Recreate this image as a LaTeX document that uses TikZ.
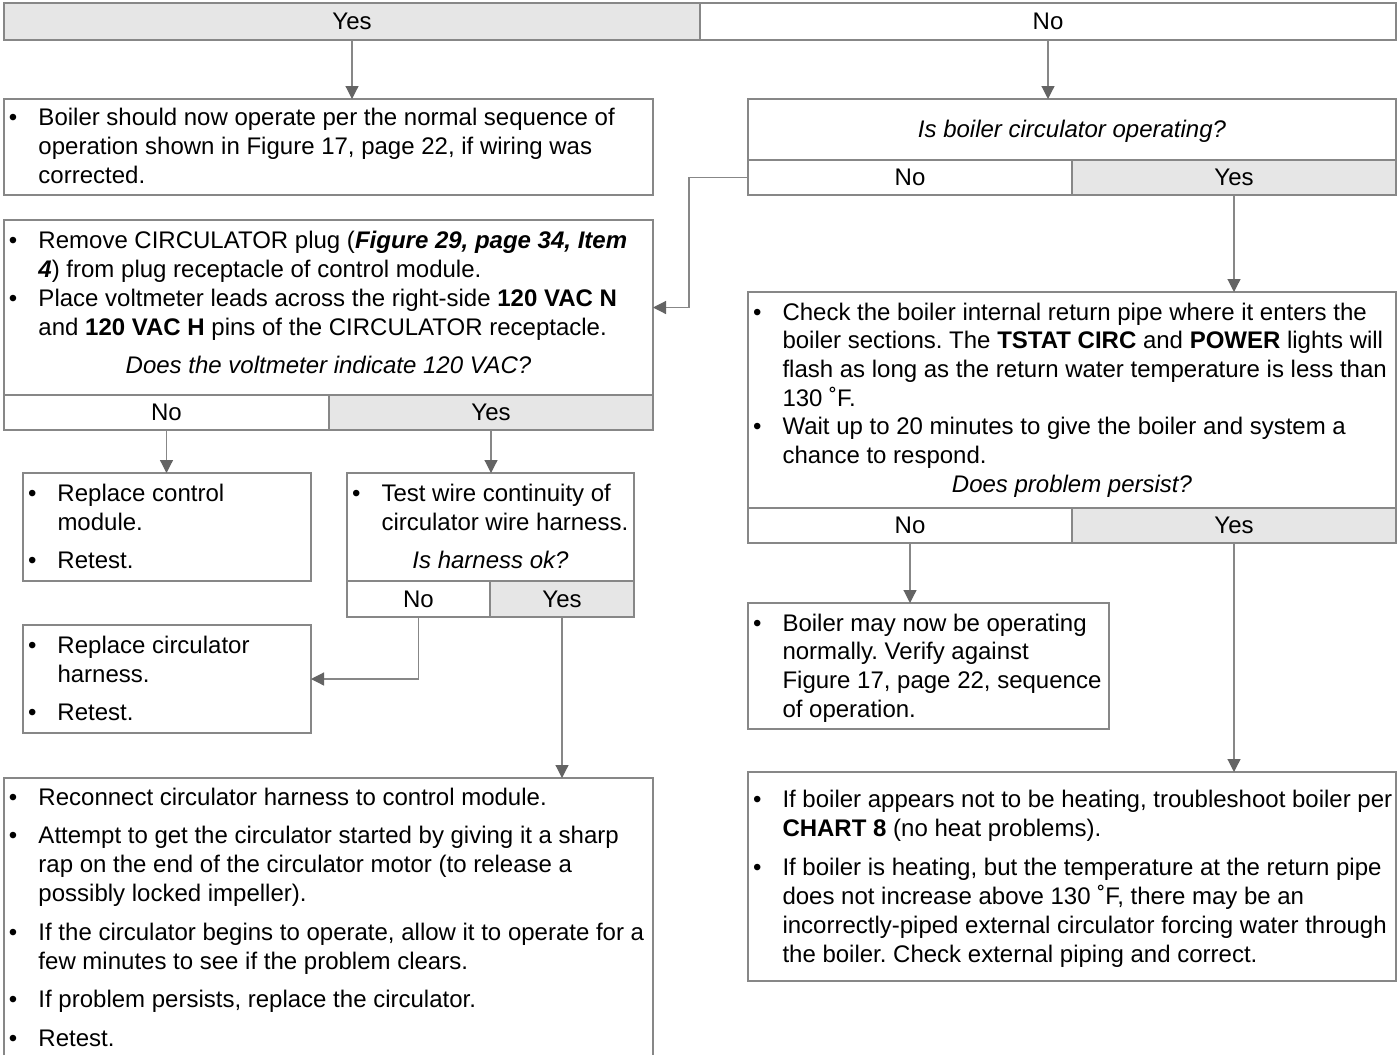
\documentclass[tikz,border=0pt]{standalone}
\usepackage{fontspec}
\setmainfont{Liberation Sans}
\usetikzlibrary{arrows.meta}
\definecolor{lc}{RGB}{135,135,135}
\definecolor{ac}{RGB}{100,100,100}
\definecolor{cellfill}{RGB}{230,230,230}
\newcommand{\fs}{\fontsize{24pt}{29pt}\selectfont\frenchspacing}
\newcommand{\bul}{\strut\makebox[29.5pt][l]{•}}
\newcommand{\ind}{\hspace*{29.5pt}}
\tikzset{
  bx/.style={draw=lc, line width=1.2pt, inner sep=0pt, outer sep=0pt, anchor=north west},
  cell/.style={bx, font=\fs},
  ycell/.style={cell, fill=cellfill},
  txt/.style={anchor=north west, inner sep=0pt, outer sep=0pt, align=left, font=\fs},
  qt/.style={anchor=base, inner sep=0pt, font=\fs\itshape},
  arr/.style={draw=lc, line width=1.2pt, -{Triangle[length=13pt,width=13pt,color=ac]}},
  ln/.style={draw=lc, line width=1.2pt}
}
\begin{document}
\begin{tikzpicture}[x=1pt,y=-1pt]
\fill[white] (0,0) rectangle (1399,1055);
\useasboundingbox (0,0) rectangle (1399,1055);

% top bar
\node[ycell, minimum width=696pt, minimum height=37pt] (yes0) at (4,3) {Yes};
\node[cell, minimum width=696pt, minimum height=37pt] (no0) at (700,3) {No};

% left column
\node[bx, minimum width=649pt, minimum height=96pt] (b1) at (4,99) {};
\node[txt] (t1) at (9,104.7) {\bul Boiler should now operate per the normal sequence of\\
\ind operation shown in Figure 17, page 22, if wiring was\\
\ind corrected.};

\node[bx, minimum width=649pt, minimum height=175pt] (b3q) at (4,220) {};
\node[cell, minimum width=325pt, minimum height=35pt] (b3n) at (4,395) {No};
\node[ycell, minimum width=324pt, minimum height=35pt] (b3y) at (329,395) {Yes};
\node[txt] (t3) at (9,227.7) {\bul Remove CIRCULATOR plug (\textbf{\textit{Figure 29, page 34, Item}}\\
\ind\textbf{\textit{4}}) from plug receptacle of control module.\\
\bul Place voltmeter leads across the right-side \textbf{120 VAC N}\\
\ind and \textbf{120 VAC H} pins of the CIRCULATOR receptacle.};
\node[qt] (q3) at (328.5,373) {Does the voltmeter indicate 120 VAC?};

\node[bx, minimum width=288pt, minimum height=108pt] (b4) at (23,473) {};
\node[txt] (t4) at (28,480.7) {\bul Replace control\\
\ind module.\\[9.5pt]
\bul Retest.};

\node[bx, minimum width=287pt, minimum height=108pt] (b5q) at (347,473) {};
\node[cell, minimum width=143pt, minimum height=36pt] (b5n) at (347,581) {No};
\node[ycell, minimum width=144pt, minimum height=36pt] (b5y) at (490,581) {Yes};
\node[txt] (t5) at (352,480.7) {\bul Test wire continuity of\\
\ind circulator wire harness.};
\node[qt] (q5) at (490.5,568) {Is harness ok?};

\node[bx, minimum width=288pt, minimum height=108pt] (b6) at (23,625) {};
\node[txt] (t6) at (28,632.7) {\bul Replace circulator\\
\ind harness.\\[9.5pt]
\bul Retest.};

\node[inner sep=0pt, outer sep=0pt, anchor=north west, minimum width=649pt, minimum height=277pt] (b7) at (4,778) {};
\draw[ln] (b7.south west) -- (b7.north west) -- (b7.north east) -- (b7.south east);
\node[txt] (t7) at (9,784.7) {\bul Reconnect circulator harness to control module.\\[9.5pt]
\bul Attempt to get the circulator started by giving it a sharp\\
\ind rap on the end of the circulator motor (to release a\\
\ind possibly locked impeller).\\[9.5pt]
\bul If the circulator begins to operate, allow it to operate for a\\
\ind few minutes to see if the problem clears.\\[9.5pt]
\bul If problem persists, replace the circulator.\\[9.5pt]
\bul Retest.};

% right column
\node[bx, minimum width=648pt, minimum height=61pt] (b2q) at (748,99) {};
\node[cell, minimum width=324pt, minimum height=35pt] (b2n) at (748,160) {No};
\node[ycell, minimum width=324pt, minimum height=35pt] (b2y) at (1072,160) {Yes};
\node[qt] (q2) at (1072,137) {Is boiler circulator operating?};

\node[bx, minimum width=648pt, minimum height=216pt] (b8q) at (748,292) {};
\node[cell, minimum width=324pt, minimum height=35pt] (b8n) at (748,508) {No};
\node[ycell, minimum width=324pt, minimum height=35pt] (b8y) at (1072,508) {Yes};
\node[txt] (t8) at (753,299.7) {\bul Check the boiler internal return pipe where it enters the\\[-0.3pt]
\ind boiler sections. The \textbf{TSTAT CIRC} and \textbf{POWER} lights will\\[-0.3pt]
\ind flash as long as the return water temperature is less than\\[-0.3pt]
\ind 130 ˚F.\\[-0.3pt]
\bul Wait up to 20 minutes to give the boiler and system a\\[-0.3pt]
\ind chance to respond.};
\node[qt] (q8) at (1072,492) {Does problem persist?};

\node[bx, minimum width=361pt, minimum height=126pt] (b9) at (748,603) {};
\node[txt] (t9) at (753,610.7) {\bul Boiler may now be operating\\[-0.3pt]
\ind normally. Verify against\\[-0.3pt]
\ind Figure 17, page 22, sequence\\[-0.3pt]
\ind of operation.};

\node[bx, minimum width=648pt, minimum height=209pt] (b10) at (748,772) {};
\node[txt] (t10) at (753,786.7) {\bul If boiler appears not to be heating, troubleshoot boiler per\\
\ind\textbf{CHART 8} (no heat problems).\\[10pt]
\bul If boiler is heating, but the temperature at the return pipe\\
\ind does not increase above 130 ˚F, there may be an\\
\ind incorrectly-piped external circulator forcing water through\\
\ind the boiler. Check external piping and correct.};

% connectors
\draw[arr] (yes0.south) -- (yes0.south |- b1.north);
\draw[arr] (no0.south) -- (no0.south |- b2q.north);
\draw[arr] (b2n.west) -- ++(-59,0) |- (b3q.east);
\draw[arr] (b2y.south) -- (b2y.south |- b8q.north);
\draw[arr] (b3n.south) -- (b3n.south |- b4.north);
\draw[arr] (b3y.south) -- (b3y.south |- b5q.north);
\draw[arr] (b5n.south) |- (b6.east);
\draw[arr] (b5y.south) -- (b5y.south |- b7.north);
\draw[arr] (b8n.south) -- (b8n.south |- b9.north);
\draw[arr] (b8y.south) -- (b8y.south |- b10.north);
\end{tikzpicture}
\end{document}
